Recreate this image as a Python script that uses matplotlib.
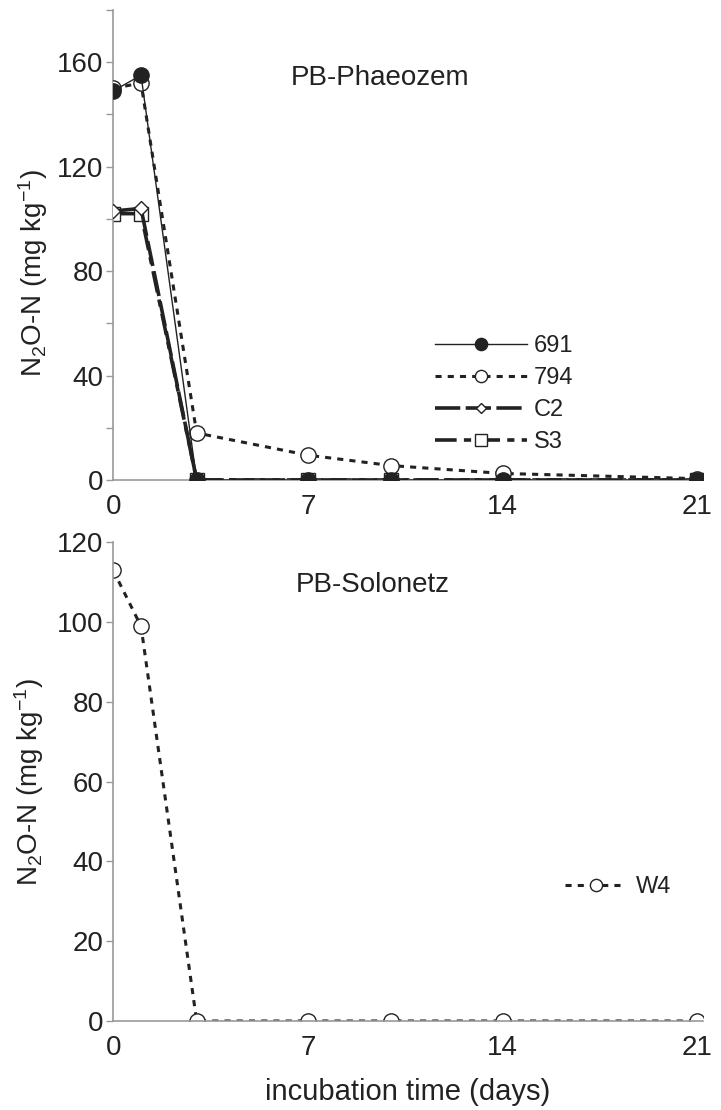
import matplotlib
matplotlib.use("Agg")
import matplotlib.pyplot as plt
from matplotlib.ticker import MultipleLocator

plt.rcParams['font.family'] = ['Liberation Sans', 'DejaVu Sans']
plt.rcParams['mathtext.default'] = 'regular'

# Data ------------------------------------------------------------------------
days = [0, 1, 3, 7, 10, 14, 21]

# PB-Phaeozem
n691 = [149, 155, 0, 0, 0, 0, 0]
n794 = [150, 152, 18, 9.5, 5.5, 2.5, 0.5]
c2 = [103, 104, 0, 0, 0, 0, 0]
s3 = [102, 102, 0, 0, 0, 0, 0]

# PB-Solonetz
w4 = [113, 99, 0, 0, 0, 0, 0]

xticks = [0, 7, 14, 21]
ylabel = r'N$_2$O-N (mg kg$^{-1}$)'

# Style -----------------------------------------------------------------------
ink = '#222222'
axcol = '#999999'
fs = 20

fig = plt.figure(figsize=(7.21, 11.10), dpi=100)
ax1 = fig.add_axes([0.157, 0.5676, 0.818, 0.4234])
ax2 = fig.add_axes([0.157, 0.0802, 0.818, 0.4311])


def style_axis(ax, ymax, major, labelled):
    ax.set_xlim(0, 21.2)
    ax.set_ylim(0, ymax)
    for side in ('top', 'right'):
        ax.spines[side].set_visible(False)
    for side in ('left', 'bottom'):
        ax.spines[side].set_color(axcol)
        ax.spines[side].set_linewidth(1.2)
    ax.set_xticks(xticks)
    ax.yaxis.set_major_locator(MultipleLocator(labelled))
    ax.yaxis.set_minor_locator(MultipleLocator(major))
    ax.tick_params(axis='x', length=0, pad=10, labelsize=fs, labelcolor=ink)
    ax.tick_params(axis='y', which='both', length=5, width=1, color=axcol,
                   direction='out', labelsize=fs, labelcolor=ink, pad=2)
    ax.set_ylabel(ylabel, fontsize=fs, color=ink, labelpad=8)


style_axis(ax1, 180, 20, 40)
style_axis(ax2, 120, 20, 20)
ax1.yaxis.set_label_coords(-0.108, 0.44)

# Top panel
l_s3, = ax1.plot(days, s3, color=ink, lw=2.6, dashes=(6, 2, 2, 2),
                 marker='s', ms=10, mfc='white', mec=ink, mew=1, zorder=2)
l_c2, = ax1.plot(days, c2, color=ink, lw=2.6, dashes=(7, 1.5),
                 marker='D', ms=7, mfc='white', mec=ink, mew=1, zorder=3)
l_794, = ax1.plot(days, n794, color=ink, lw=2.2, dashes=(2, 2),
                  marker='o', ms=11, mfc='white', mec=ink, mew=1, zorder=4)
l_691, = ax1.plot(days, n691, color=ink, lw=1,
                  marker='o', ms=11, mfc=ink, mec=ink, zorder=5)

fig.text(380 / 721, 1 - 78 / 1110, 'PB-Phaeozem', fontsize=fs, color=ink,
         ha='center', va='center')

leg1 = ax1.legend([l_691, l_794, l_c2, l_s3], ['691', '794', 'C2', 'S3'],
                  loc='center left', bbox_to_anchor=(0.545, 0.183),
                  frameon=False, fontsize=17, handlelength=3.9,
                  handletextpad=0.3, labelspacing=0.42, markerscale=0.8,
                  borderpad=0, borderaxespad=0)
for t in leg1.get_texts():
    t.set_color(ink)

# Bottom panel
l_w4, = ax2.plot(days, w4, color=ink, lw=2.2, dashes=(2, 2),
                 marker='o', ms=11, mfc='white', mec=ink, mew=1)

fig.text(373 / 721, 1 - 585 / 1110, 'PB-Solonetz', fontsize=fs, color=ink,
         ha='center', va='center')

leg2 = ax2.legend([l_w4], ['W4'], loc='center left',
                  bbox_to_anchor=(0.766, 0.28), frameon=False, fontsize=17,
                  handlelength=2.6, handletextpad=0.4, markerscale=0.8,
                  borderpad=0, borderaxespad=0)
for t in leg2.get_texts():
    t.set_color(ink)

ax2.set_xlabel('incubation time (days)', fontsize=21, color=ink, labelpad=12)

fig.savefig('out.png', dpi=100)
